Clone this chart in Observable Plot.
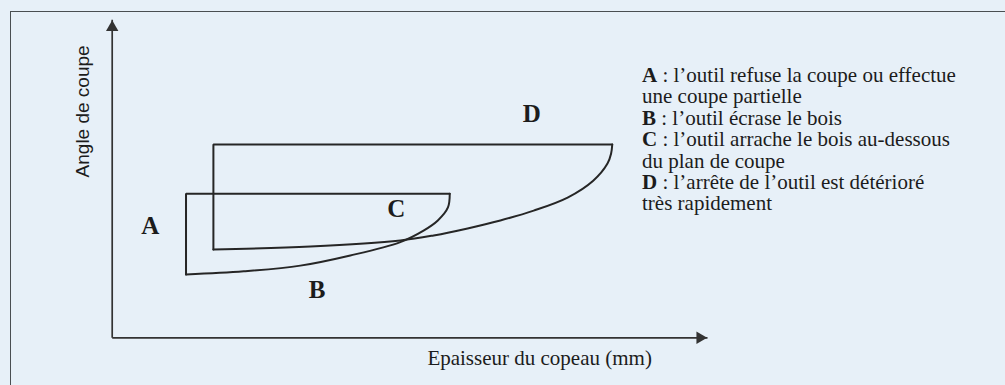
<!DOCTYPE html>
<html>
<head>
<meta charset="utf-8">
<script src="https://cdn.jsdelivr.net/npm/d3@7"></script>
<script src="https://cdn.jsdelivr.net/npm/@observablehq/plot@0.6"></script>
<style>
  html, body { margin: 0; padding: 0; background: #e7f0f8; }
  #wrap { position: relative; width: 1005px; height: 385px; overflow: hidden; background: #e7f0f8; }
  #frame { position: absolute; left: 10px; top: 11px; width: 1100px; height: 500px;
           border-top: 1.6px solid #4a4f52; border-left: 1.6px solid #4a4f52; box-sizing: border-box; }
  #chart { position: absolute; left: 0; top: 0; }
  #legend { position: absolute; left: 642px; top: 65px; font-family: "Liberation Serif", serif;
            font-size: 21px; line-height: 21.4px; color: #1c1c1c; white-space: nowrap; }
  #legend b { font-weight: bold; }
</style>
</head>
<body>
<div id="wrap">
  <div id="frame"></div>
  <div id="chart"></div>
  <div id="legend"></div>
</div>
<script>
// ---- Data (schematic units: x = chip thickness, y = cutting angle) ----
const xLabel = "Epaisseur du copeau (mm)";
const yLabel = "Angle de coupe";

// Large boundary (upper, D region): straight edges then curved lower edge
const boundaryD_edges = [[1.70, 2.78], [1.70, 6.08], [8.40, 6.08]];
const boundaryD_curve = [[8.40, 6.08], [8.38, 5.79], [8.32, 5.48], [8.08, 4.94], [7.65, 4.41],
                         [7.08, 4.00], [6.52, 3.69], [5.97, 3.44], [5.40, 3.22], [4.84, 3.06],
                         [3.33, 2.87], [1.70, 2.78]];

// Small boundary (lower, C region)
const boundaryC_edges = [[1.24, 1.99], [1.24, 4.53], [5.67, 4.53]];
const boundaryC_curve = [[5.67, 4.53], [5.64, 4.10], [5.47, 3.69], [5.23, 3.37], [4.84, 3.01],
                         [4.00, 2.59], [3.16, 2.27], [2.21, 2.09], [1.24, 1.99]];

// Region letters
const regionLabels = ["A", "B", "C", "D"];
const regionLabelX = [0.64, 3.44, 4.77, 7.05];
const regionLabelY = [3.53, 1.49, 4.06, 7.04];

// Legend
const legendLetters = ["A", "", "B", "C", "", "D", ""];
const legendTexts = [
  " : l’outil refuse la coupe ou effectue",
  "une coupe partielle",
  " : l’outil écrase le bois",
  " : l’outil arrache le bois au-dessous",
  "du plan de coupe",
  " : l’arrête de l’outil est détérioré",
  "très rapidement"
];

// ---- Drawing ----
const ink = "#262626";
const serif = "Liberation Serif, Times New Roman, serif";
const sans = "Liberation Sans, Arial, sans-serif";

const labels = regionLabels.map((t, i) => ({t, x: regionLabelX[i], y: regionLabelY[i]}));

const chart = Plot.plot({
  width: 1005,
  height: 385,
  marginLeft: 111.7,
  marginRight: 298,
  marginTop: 19.3,
  marginBottom: 47.7,
  x: {domain: [0, 10], axis: null},
  y: {domain: [0, 10], axis: null},
  style: {background: "transparent", overflow: "visible"},
  marks: [
    // axes
    Plot.link([{x1: 0, y1: 0, x2: 10, y2: 0}, {x1: 0, y1: 0, x2: 0, y2: 10}],
      {x1: "x1", y1: "y1", x2: "x2", y2: "y2", stroke: "#333", strokeWidth: 1.7}),
    Plot.dot([{x: 0, y: 10}], {x: "x", y: "y", symbol: "triangle", r: 4.6, dy: 7.5, fill: "#333", stroke: "none"}),
    Plot.dot([{x: 10, y: 0}], {x: "x", y: "y", symbol: "triangle", r: 4.6, dx: -7.5, rotate: 90, fill: "#333", stroke: "none"}),
    // boundaries
    Plot.line(boundaryD_edges, {x: d => d[0], y: d => d[1], stroke: ink, strokeWidth: 2, strokeLinejoin: "miter"}),
    Plot.line(boundaryD_curve, {x: d => d[0], y: d => d[1], curve: "catmull-rom", stroke: ink, strokeWidth: 2}),
    Plot.line(boundaryC_edges, {x: d => d[0], y: d => d[1], stroke: ink, strokeWidth: 2, strokeLinejoin: "miter"}),
    Plot.line(boundaryC_curve, {x: d => d[0], y: d => d[1], curve: "catmull-rom", stroke: ink, strokeWidth: 2}),
    // region letters
    Plot.text(labels, {x: "x", y: "y", text: "t", fontFamily: serif, fontWeight: "bold", fontSize: 25, fill: "#1c1c1c"}),
    // axis titles
    Plot.text([xLabel], {x: 7.18, y: -0.65, text: d => d, fontFamily: serif, fontSize: 21, fill: "#1c1c1c"}),
    Plot.text([yLabel], {x: -0.50, y: 7.12, text: d => d, rotate: -90, fontFamily: sans, fontSize: 19, fill: "#1c1c1c"})
  ]
});
document.getElementById("chart").appendChild(chart);

// legend (mixed bold / regular text)
const legend = d3.select("#legend");
legendTexts.forEach((t, i) => {
  const line = legend.append("div");
  if (legendLetters[i]) line.append("b").text(legendLetters[i]);
  line.append("span").text(t);
});
</script>
</body>
</html>
